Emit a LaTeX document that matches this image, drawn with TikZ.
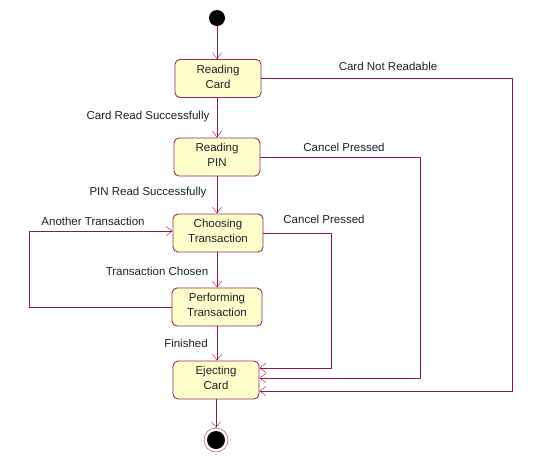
\documentclass[tikz,border=0pt]{standalone}
\usepackage{fontspec}
\setmainfont{Liberation Sans}
\usetikzlibrary{arrows.meta}
\usetikzlibrary{positioning}

\definecolor{arrowline}{RGB}{150,20,70}
\definecolor{stateline}{RGB}{155,40,90}
\definecolor{statefill}{RGB}{255,255,204}
\definecolor{labeltext}{RGB}{30,30,45}

\tikzset{
  state/.style={draw=stateline, line width=0.9pt, fill=statefill, rounded corners=5pt,
    minimum width=86pt, minimum height=38pt, align=center, inner sep=2pt,
    font=\fontsize{11.5}{15}\selectfont, text=labeltext,
    execute at end node={\rule[-4pt]{0pt}{1pt}}},
  trans/.style={draw=arrowline, -{Straight Barb[length=6pt,width=9pt]}},
  lbl/.style={font=\fontsize{11.5}{14}\selectfont, text=labeltext}
}

\begin{document}
\begin{tikzpicture}[x=1pt,y=-1pt]
\useasboundingbox (0,0) rectangle (533,464);

% states
\fill[black] (217,18) circle (8) coordinate (init);
\node[state] (rc) at (218,78.5) {Reading\\Card};
\node[state] (rp) at (217,157) {Reading\\PIN};
\node[state, minimum width=90pt] (ct) at (218,233) {Choosing\\Transaction};
\node[state, minimum width=90pt] (pt) at (217,307) {Performing\\Transaction};
\node[state] (ec) at (216,380) {Ejecting\\Card};
\draw[stateline] (216,440) circle (12);
\fill[black] (216,440) circle (9);
\coordinate (fin) at (216,428);

% main flow
\draw[trans] (217,26) -- (rc.north -| 217,0);
\draw[trans] (rc.south -| 217,0) -- (rp.north -| 217,0);
\draw[trans] (rp.south -| 217,0) -- (ct.north -| 217,0);
\draw[trans] (ct.south -| 217,0) -- (pt.north -| 217,0);
\draw[trans] (pt.south -| 217,0) -- (ec.north -| 217,0);
\draw[trans] (ec.south -| 216,0) -- (fin);

% exits to ejecting
\draw[trans] (rc.east) -- (512,78.5) -- (512,391) -- ([yshift=-11pt]ec.east);
\draw[trans] (rp.east) -- (420,157) -- (420,378) -- ([yshift=2pt]ec.east);
\draw[trans] (ct.east) -- (331,233) -- (331,368) -- ([yshift=12pt]ec.east);

% loop back
\draw[trans] (pt.west) -- (29,307) -- (29,231) -- ([yshift=2pt]ct.west);

% labels
\node[lbl] (l1) at (388,66) {Card Not Readable};
\node[lbl] (l2) at (148,117) {Card Read Successfully};
\node[lbl] (l3) at (344,147) {Cancel Pressed};
\node[lbl] (l4) at (148,193) {PIN Read Successfully};
\node[lbl] (l5) at (93,221) {Another Transaction};
\node[lbl] (l6) at (324,219) {Cancel Pressed};
\node[lbl] (l7) at (157,271) {Transaction Chosen};
\node[lbl] (l8) at (186,343) {Finished};

\end{tikzpicture}
\end{document}
